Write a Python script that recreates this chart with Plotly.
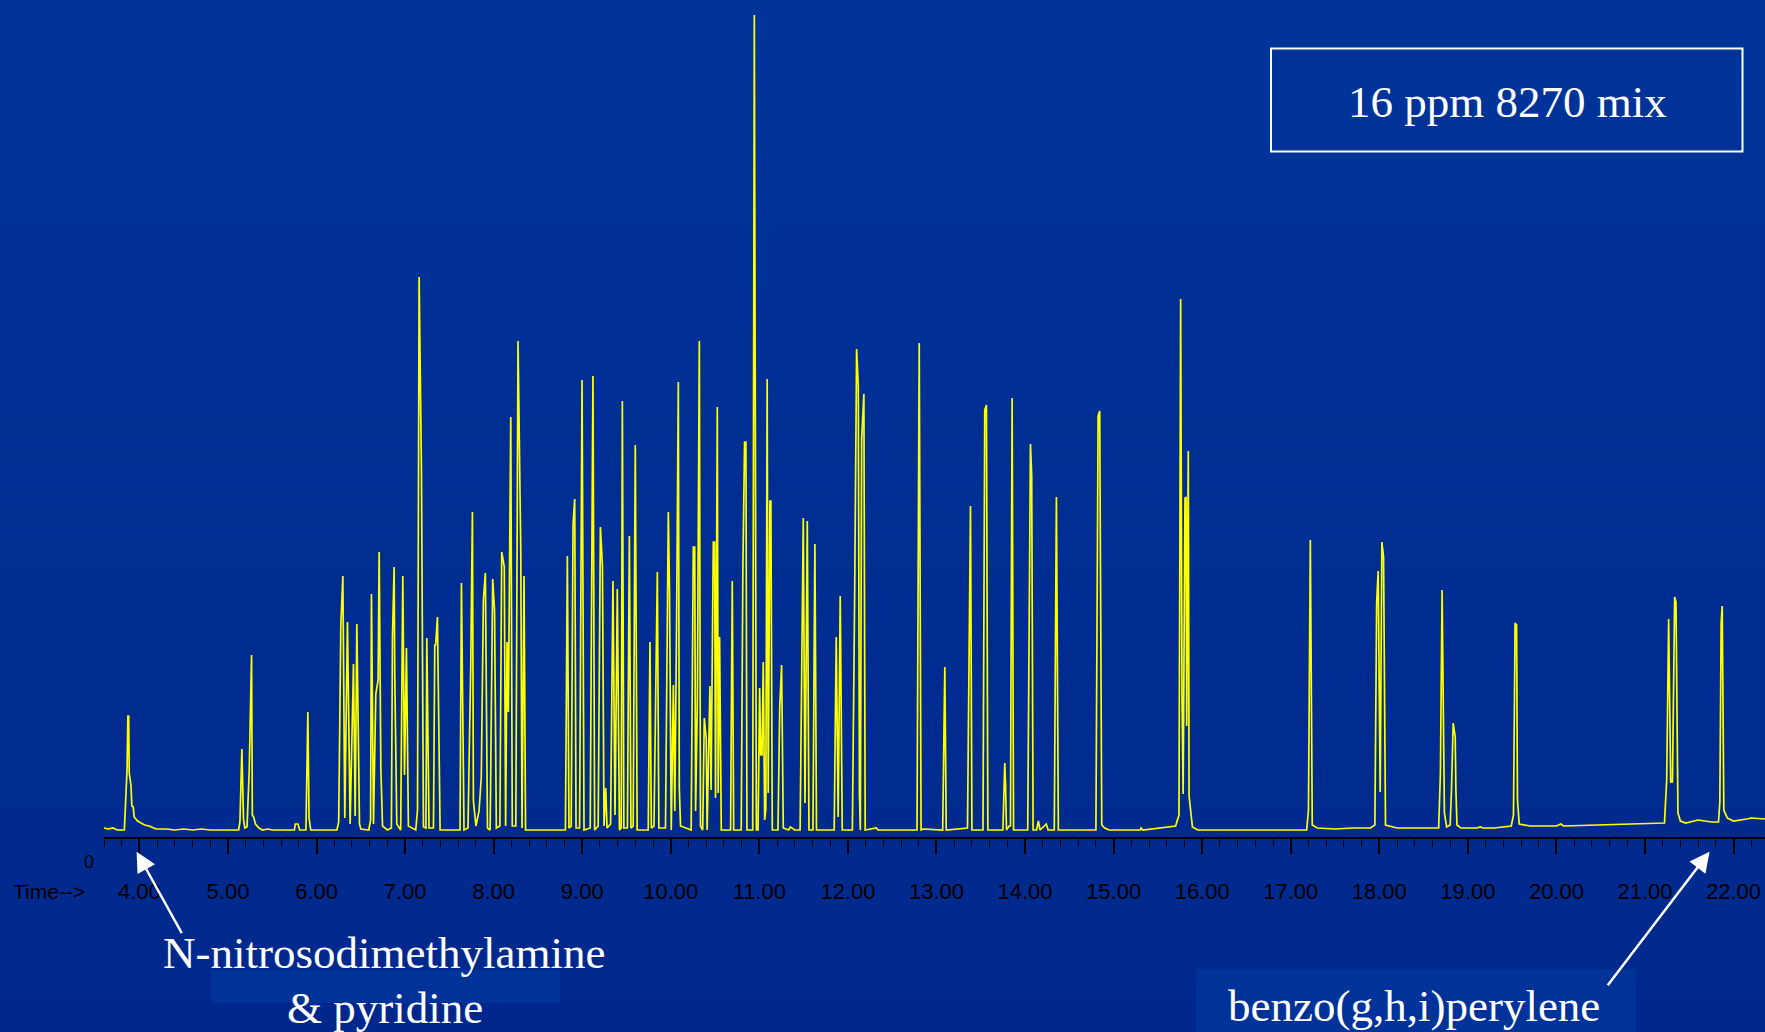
import plotly.graph_objects as go

# ---------------- data (retention time in minutes, abundance in relative units) ----------------
rt = [3.60, 3.65, 3.70, 3.75, 3.83, 3.86, 3.870, 3.878, 3.885, 3.904, 3.915, 3.930, 3.941, 3.98, 4.017,
      4.06, 4.11, 4.15, 4.186, 4.30, 4.40, 4.50, 4.60, 4.70, 4.80,
      5.12, 5.135, 5.157, 5.175, 5.19, 5.215, 5.24, 5.258, 5.266, 5.275, 5.29, 5.31, 5.35, 5.39, 5.45,
      5.50, 5.75, 5.76, 5.79, 5.81, 5.88, 5.902, 5.915, 5.935,
      6.23, 6.25, 6.274, 6.297, 6.319, 6.349, 6.379, 6.417, 6.436, 6.455, 6.485, 6.50, 6.59,
      6.61, 6.620, 6.643, 6.669, 6.695, 6.707, 6.726, 6.745, 6.80, 6.845, 6.857, 6.876, 6.883, 6.906,
      6.95, 6.974, 6.993, 7.015, 7.037, 7.12, 7.14, 7.150, 7.158, 7.185, 7.207,
      7.235, 7.245, 7.27, 7.32, 7.335, 7.345, 7.365, 7.395, 7.62, 7.636, 7.665, 7.71, 7.741, 7.760,
      7.771, 7.80, 7.835, 7.86, 7.884, 7.906, 7.93, 7.96, 7.989, 8.01, 8.03, 8.07, 8.091, 8.12, 8.135,
      8.151, 8.166, 8.193, 8.21, 8.25, 8.275, 8.306, 8.32, 8.343, 8.36,
      8.81, 8.832, 8.85, 8.875, 8.896, 8.915, 8.93, 8.97, 8.998, 9.02, 9.09, 9.121, 9.14, 9.18, 9.205,
      9.228, 9.246, 9.265, 9.28, 9.32, 9.347, 9.37, 9.396, 9.42, 9.44, 9.453, 9.47, 9.51, 9.532, 9.55,
      9.575, 9.599, 9.62,
      9.745, 9.765, 9.78, 9.81, 9.848, 9.865, 9.94, 9.972, 9.985, 10.005, 10.029, 10.045, 10.066,
      10.085, 10.096, 10.11, 10.23, 10.254, 10.27, 10.28, 10.30, 10.322, 10.335, 10.36, 10.378, 10.40,
      10.41, 10.442, 10.455, 10.480, 10.495, 10.505, 10.525, 10.535, 10.551, 10.57,
      10.675, 10.694, 10.71, 10.795, 10.814, 10.833, 10.848, 10.86, 10.925, 10.943, 10.966, 10.985,
      11.003, 11.015, 11.03, 11.044, 11.06, 11.073, 11.088, 11.10, 11.119, 11.13, 11.146,
      11.21, 11.23, 11.251, 11.27, 11.33, 11.35, 11.40, 11.46, 11.478, 11.496, 11.515, 11.541, 11.56,
      11.605, 11.627, 11.645,
      11.845, 11.868, 11.89, 11.913, 11.936, 12.05, 12.075, 12.098, 12.117, 12.13, 12.14, 12.155,
      12.180, 12.195, 12.32, 12.34, 12.78, 12.805, 12.826, 12.85, 13.07, 13.094, 13.11, 13.35, 13.384,
      13.40, 13.525, 13.545, 13.564, 13.58,
      13.75, 13.771, 13.78, 13.79, 13.82, 13.835, 13.854, 13.87, 14.03, 14.061, 14.075, 14.091, 14.13,
      14.15, 14.17, 14.24, 14.26, 14.33, 14.354, 14.376,
      14.80, 14.825, 14.843, 14.866, 14.90, 14.95, 15.30, 15.31, 15.33, 15.70, 15.738, 15.757, 15.772,
      15.785, 15.806, 15.818, 15.825, 15.843, 15.852, 15.89, 15.95, 16.20,
      17.18, 17.20, 17.221, 17.243, 17.30, 17.50, 17.70, 17.90, 17.95, 17.97, 17.987, 18.01, 18.029,
      18.048, 18.07, 18.20, 18.40, 18.60, 18.67, 18.69, 18.709, 18.735, 18.76, 18.80, 18.815, 18.834,
      18.857, 18.865, 18.877, 18.92, 19.10, 19.14, 19.17, 19.30, 19.49, 19.515, 19.533, 19.55, 19.56,
      19.58, 19.70, 20.00, 20.05, 20.08, 20.50, 21.00, 21.22, 21.245, 21.267, 21.29, 21.31, 21.335,
      21.35, 21.372, 21.40, 21.46, 21.60, 21.75, 21.83, 21.845, 21.86, 21.872, 21.89, 21.93, 22.00,
      22.15, 22.20, 22.355]

abundance = [2, 1, 2, 0, 0, 60, 114, 114, 57, 45, 24, 23, 13, 9, 7,
             5, 4, 2, 1, 1, 0, 1, 0, 1, 0,
             0, 8, 81, 11, 2, 3, 60, 175, 175, 15, 13, 6, 2, 0, 1,
             0, 0, 6, 6, 0, 0, 118, 12, 0,
             0, 8, 204, 254, 12, 208, 6, 166, 14, 206, 6, 1, 0,
             10, 236, 6, 136, 150, 278, 61, 4, 0, 2, 192, 263, 157, 6,
             0, 254, 55, 182, 4, 0, 20, 553, 553, 354, 3,
             2, 192, 2, 2, 185, 185, 213, 0, 0, 247, 0, 2, 164, 318,
             29, 4, 19, 53, 230, 257, 2, 0, 251, 219, 2, 4, 278, 263, 4,
             188, 118, 413, 4, 4, 489, 279, 2, 254, 0,
             0, 274, 2, 4, 305, 331, 2, 2, 450, 0, 2, 454, 0, 4, 303,
             264, 4, 42, 2, 6, 249, 15, 241, 0, 2, 429, 2, 2, 294, 2,
             4, 385, 0,
             0, 188, 2, 4, 258, 2, 2, 318, 241, 0, 145, 19, 215,
             448, 42, 4, 0, 283, 283, 19, 128, 489, 4, 0, 112, 91,
             0, 144, 40, 288, 288, 32, 423, 37, 193, 0,
             0, 249, 0, 0, 262, 388, 388, 0, 0, 815, 0, 0,
             142, 75, 75, 168, 10, 21, 451, 37, 329, 329, 0,
             0, 123, 165, 2, 0, 3, 0, 0, 147, 312, 27, 309, 0,
             0, 286, 0,
             0, 193, 13, 234, 0, 0, 225, 481, 444, 37, 0, 391,
             436, 0, 2, 0, 0, 487, 0, 1, 0, 163, 0, 2, 324,
             0, 0, 420, 425, 0,
             0, 67, 45, 0, 4, 4, 432, 0, 0, 386, 354, 0, 0,
             9, 0, 6, 0, 0, 333, 0,
             0, 414, 419, 5, 2, 0, 0, 2, 0, 4, 15, 531, 135,
             36, 332, 333, 104, 379, 34, 3, 0, 0,
             0, 20, 290, 5, 2, 1, 2, 2, 5, 227, 259, 38, 288,
             273, 5, 2, 2, 2, 2, 57, 240, 17, 3, 5, 40, 107,
             93, 40, 5, 2, 2, 3, 2, 2, 4, 15, 207, 205, 30,
             6, 4, 4, 6, 4, 5, 6, 7, 50, 211, 48, 48, 233,
             228, 17, 9, 7, 10, 8, 8, 28, 207, 224, 20, 12, 9,
             11, 12, 11]

tick_vals = [4, 5, 6, 7, 8, 9, 10, 11, 12, 13, 14, 15, 16, 17, 18, 19, 20, 21, 22]
tick_text = ["4.00", "5.00", "6.00", "7.00", "8.00", "9.00", "10.00", "11.00", "12.00", "13.00",
             "14.00", "15.00", "16.00", "17.00", "18.00", "19.00", "20.00", "21.00", "22.00"]

title_text = "16 ppm 8270 mix"
label_first = ["N-nitrosodimethylamine", "& pyridine"]
label_last = "benzo(g,h,i)perylene"

# ---------------- layout geometry ----------------
W, H = 1765, 1032
ML, MB = 104, 195
PW, PH = W - ML, H - MB


def px(xp):
    return (xp - ML) / PW


def py(yp):
    return (PH - yp) / PH


SERIF = "Liberation Serif, Times New Roman, serif"
SANS = "Liberation Sans, Arial, sans-serif"

fig = go.Figure()
fig.add_trace(go.Scatter(x=rt, y=abundance, mode="lines",
                         line=dict(color="#ffff00", width=1.7), hoverinfo="skip",
                         showlegend=False, cliponaxis=True))

shapes = []
# subtle vertical gradient of the slide background
n = 60
top_c = (0, 52, 154)
bot_c = (0, 40, 140)
for i in range(n):
    f = (i + 0.5) / n
    c = tuple(round(top_c[k] + (bot_c[k] - top_c[k]) * f) for k in range(3))
    y0p = H * i / n
    y1p = H * (i + 1) / n + 1
    shapes.append(dict(type="rect", xref="paper", yref="paper", layer="below",
                       x0=px(0), x1=px(W), y0=py(y1p), y1=py(y0p),
                       fillcolor="rgb(%d,%d,%d)" % c, line=dict(width=0)))
# lighter patches behind the annotations
shapes.append(dict(type="rect", xref="paper", yref="paper", layer="below",
                   x0=px(211), x1=px(560), y0=py(1003), y1=py(970),
                   fillcolor="#003399", line=dict(width=0)))
shapes.append(dict(type="rect", xref="paper", yref="paper", layer="below",
                   x0=px(1196), x1=px(1636), y0=py(1033), y1=py(969),
                   fillcolor="#003399", line=dict(width=0)))
# title box
shapes.append(dict(type="rect", xref="paper", yref="paper", layer="above",
                   x0=px(1271), x1=px(1742.5), y0=py(151.5), y1=py(48.5),
                   line=dict(color="white", width=2), fillcolor="rgba(0,0,0,0)"))

annotations = [
    dict(text=title_text, x=px(1507), y=py(102), xref="paper", yref="paper",
         showarrow=False, font=dict(family=SERIF, size=45, color="white"),
         xanchor="center", yanchor="middle"),
    dict(text=label_first[0], x=px(384), y=py(953), xref="paper", yref="paper",
         showarrow=False, font=dict(family=SERIF, size=45, color="white"),
         xanchor="center", yanchor="middle"),
    dict(text=label_first[1], x=px(385), y=py(1008), xref="paper", yref="paper",
         showarrow=False, font=dict(family=SERIF, size=45, color="white"),
         xanchor="center", yanchor="middle"),
    dict(text=label_last, x=px(1414), y=py(1006), xref="paper", yref="paper",
         showarrow=False, font=dict(family=SERIF, size=45, color="white"),
         xanchor="center", yanchor="middle"),
    dict(text="0", x=px(89), y=py(862), xref="paper", yref="paper",
         showarrow=False, font=dict(family=SANS, size=18, color="black"),
         xanchor="center", yanchor="middle"),
    dict(text="Time-->", x=px(49), y=py(891), xref="paper", yref="paper",
         showarrow=False, font=dict(family=SANS, size=21, color="black"),
         xanchor="center", yanchor="middle"),
    # arrows
    dict(text="", x=px(136.6), y=py(851.7), xref="paper", yref="paper",
         showarrow=True, ax=46, ay=83, arrowhead=2, arrowsize=1.6, arrowwidth=2.5,
         arrowcolor="white", standoff=0, startstandoff=0),
    dict(text="", x=px(1709.6), y=py(851.7), xref="paper", yref="paper",
         showarrow=True, ax=-103, ay=135, arrowhead=2, arrowsize=1.6, arrowwidth=2.5,
         arrowcolor="white", standoff=0, startstandoff=0),
]

fig.update_layout(
    width=W, height=H,
    margin=dict(l=ML, r=0, t=0, b=MB, pad=0),
    paper_bgcolor="#003399",
    plot_bgcolor="rgba(0,0,0,0)",
    shapes=shapes,
    annotations=annotations,
    showlegend=False,
    xaxis=dict(range=[3.6, 22.355], showgrid=False, zeroline=False,
               showline=True, linecolor="black", linewidth=1.5,
               ticks="outside", ticklen=15, tickwidth=1.5, tickcolor="black",
               tickmode="array", tickvals=tick_vals, ticktext=tick_text,
               tickfont=dict(family=SANS, size=22, color="black"),
               ticklabelstandoff=19,
               minor=dict(tickmode="linear", tick0=3.6, dtick=0.2, ticks="outside",
                          ticklen=8, tickwidth=1.2, tickcolor="black", showgrid=False),
               fixedrange=True),
    yaxis=dict(range=[-7, 830], visible=False, fixedrange=True),
)

fig.write_html("out.html")
